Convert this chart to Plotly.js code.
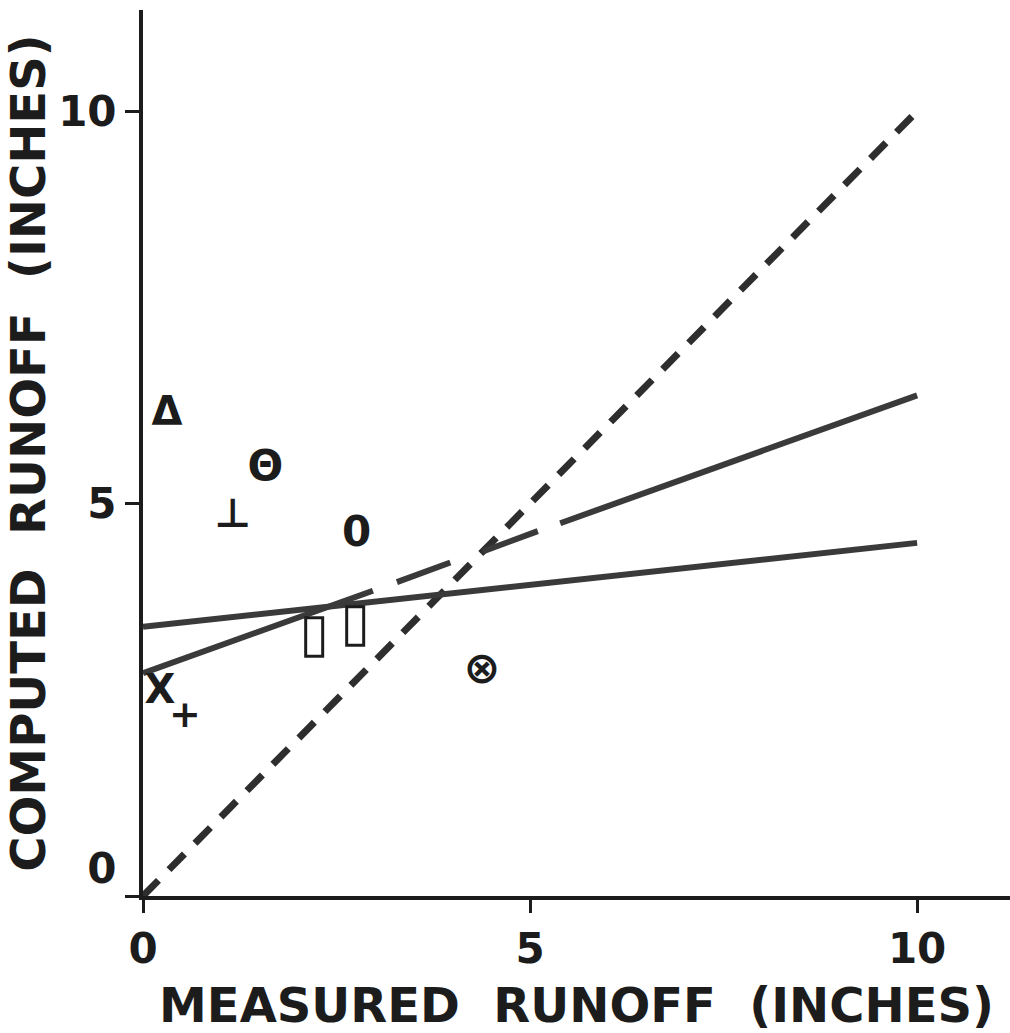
<!DOCTYPE html>
<html>
<head>
<meta charset="utf-8">
<script src="https://cdn.plot.ly/plotly-3.0.1.min.js"></script>
<style>html,body{margin:0;padding:0;background:#fff;}#chart{width:1010px;height:1033px;}</style>
</head>
<body>
<div id="chart"></div>
<script>
// Plotted observations (measured vs computed runoff, inches) drawn as lettered symbols
const pointSymbols = ["Δ", "Θ", "⊥", "0", "▯", "▯", "⊗", "X", "+"];
const measured     = [0.31, 1.58, 1.16, 2.76, 2.21, 2.74, 4.38, 0.22, 0.54];
const computed     = [6.13, 5.43, 4.83, 4.60, 3.30, 3.43, 2.85, 2.59, 2.27];
const symbolSizes  = [40, 42, 40, 42, 54, 54, 44, 40, 38];

// 1:1 line (dashed)
const equalX = [0, 10];
const equalY = [0, 10];

// flatter regression line
const line1X = [0, 10];
const line1Y = [3.43, 4.50];

// steeper regression line (solid, broken into long dashes in the middle)
const line2X = [0, 2.97, null, 3.28, 3.97, null, 4.39, 5.10, null, 5.39, 10];
const line2Y = [2.84, 3.89, null, 4.00, 4.25, null, 4.39, 4.65, null, 4.75, 6.38];

const tickVals  = [0, 5, 10];
const xTickText = ["0", "5", "10"];
const yTickText = ["0<br> ", "5", "10"];

const xRange = [0, 11.2];
const yRange = [0, 11.29];

const ink = "#1c1c1c";
const fontFam = "DejaVu Sans, Verdana, sans-serif";
const gap = " \u00A0";

const traces = [
  {x: equalX, y: equalY, mode: "lines", line: {color: "#2e2e2e", width: 7, dash: "22px,15px"}, hoverinfo: "skip"},
  {x: line1X, y: line1Y, mode: "lines", line: {color: "#3a3a3a", width: 6}, hoverinfo: "skip"},
  {x: line2X, y: line2Y, mode: "lines", connectgaps: false, line: {color: "#3a3a3a", width: 6}, hoverinfo: "skip"},
  {x: measured, y: computed, mode: "text", text: pointSymbols, textposition: "middle center",
   textfont: {family: fontFam, size: symbolSizes, color: ink, weight: "bold"}, hoverinfo: "skip"}
];

const axisFont = {family: fontFam, size: 42, color: ink, weight: "bold"};
const titleFont = {family: fontFam, size: 48, color: ink, weight: "bold"};

const layout = {
  width: 1010, height: 1033,
  margin: {l: 143, r: 0, t: 10, b: 137},
  paper_bgcolor: "#ffffff", plot_bgcolor: "#ffffff",
  showlegend: false,
  xaxis: {
    range: xRange, showgrid: false, zeroline: false,
    showline: true, linecolor: ink, linewidth: 4,
    tickmode: "array", tickvals: tickVals, ticktext: xTickText,
    ticks: "outside", ticklen: 13, tickwidth: 3, tickcolor: ink,
    ticklabelstandoff: 0,
    tickfont: axisFont,
    title: {text: "MEASURED" + gap + "RUNOFF" + gap + "(INCHES)", standoff: 26, font: titleFont}
  },
  yaxis: {
    range: yRange, showgrid: false, zeroline: false,
    showline: true, linecolor: ink, linewidth: 4,
    tickmode: "array", tickvals: tickVals, ticktext: yTickText,
    ticks: "outside", ticklen: 14, tickwidth: 3, tickcolor: ink,
    ticklabelstandoff: 0,
    tickfont: axisFont,
    title: {text: "COMPUTED" + gap + "RUNOFF" + gap + "(INCHES)", standoff: 24, font: titleFont}
  }
};

Plotly.newPlot("chart", traces, layout, {staticPlot: true, displayModeBar: false});
</script>
</body>
</html>
